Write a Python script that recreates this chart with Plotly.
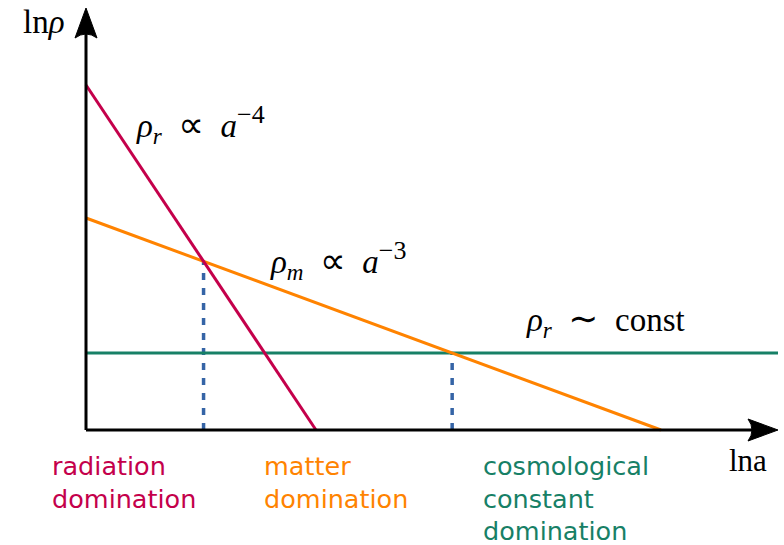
import plotly.graph_objects as go

# Schematic energy densities vs ln a (arbitrary units)
lna_radiation = [0.0, 2.30]
ln_rho_radiation = [3.45, 0.0]
lna_matter = [0.0, 5.75]
ln_rho_matter = [2.12, 0.0]
lna_lambda = [0.0, 6.92]
ln_rho_lambda = [0.77, 0.77]

RED = "#c4004b"
ORANGE = "#ff8300"
GREEN = "#178066"
BLUE = "#3564a6"

W, H = 784, 545
X0, Y0, S = 86, 430, 100.0  # origin pixel and pixels per unit


def dx(px):
    return (px - X0) / S


def dy(py):
    return (Y0 - py) / S


def line_eq(xs, ys):
    m = (ys[1] - ys[0]) / (xs[1] - xs[0])
    return m, ys[0] - m * xs[0]


mr, br = line_eq(lna_radiation, ln_rho_radiation)
mm, bm = line_eq(lna_matter, ln_rho_matter)
ml, bl = line_eq(lna_lambda, ln_rho_lambda)

# equality epochs
x_rm = (bm - br) / (mr - mm)
y_rm = mr * x_rm + br
x_ml = (bl - bm) / (mm - ml)
y_ml = ml * x_ml + bl

fig = go.Figure()

for xs, ys in [([x_rm, x_rm], [0, y_rm]), ([x_ml, x_ml], [0, y_ml])]:
    fig.add_trace(go.Scatter(x=xs, y=ys, mode="lines",
                             line=dict(color=BLUE, width=3.5, dash="7px,8px"),
                             hoverinfo="skip"))

fig.add_trace(go.Scatter(x=lna_lambda, y=ln_rho_lambda, mode="lines",
                         line=dict(color=GREEN, width=3), hoverinfo="skip"))
fig.add_trace(go.Scatter(x=lna_matter, y=ln_rho_matter, mode="lines",
                         line=dict(color=ORANGE, width=3), hoverinfo="skip"))
fig.add_trace(go.Scatter(x=lna_radiation, y=ln_rho_radiation, mode="lines",
                         line=dict(color=RED, width=3), hoverinfo="skip"))

# axes with stealth arrowheads
x_end = dx(752)
y_end = dy(34)
shapes = [
    dict(type="line", x0=0, y0=0, x1=x_end, y1=0, line=dict(color="black", width=3)),
    dict(type="line", x0=0, y0=0, x1=0, y1=y_end, line=dict(color="black", width=3)),
]
shapes.append(dict(
    type="path",
    path=(f"M {dx(748)} {dy(419)} L {dx(778)} 0 L {dx(748)} {dy(441)} "
          f"Q {dx(756)} 0 {dx(748)} {dy(419)} Z"),
    fillcolor="black", line=dict(color="black", width=1)))
shapes.append(dict(
    type="path",
    path=(f"M {dx(75)} {dy(38)} L 0 {dy(8)} L {dx(97)} {dy(38)} "
          f"Q 0 {dy(30)} {dx(75)} {dy(38)} Z"),
    fillcolor="black", line=dict(color="black", width=1)))

SERIF = "Liberation Serif"
SANS = "DejaVu Sans"
ann = []


def txt(text, px, py, xanchor="left", yanchor="middle", size=33, color="black",
        family=SERIF):
    ann.append(dict(text=text, x=dx(px), y=dy(py), xref="x", yref="y",
                    xanchor=xanchor, yanchor=yanchor, showarrow=False,
                    font=dict(family=family, size=size, color=color)))


def sym(ch):
    return f'<span style="font-family:DejaVu Sans;font-size:36px">{ch}</span>'


def sup(s):
    return f'<sup><span style="font-size:26px">{s}</span></sup>'


txt("ln<i>ρ</i>", 44, 22, xanchor="center")
txt(f"<i>ρ<sub>r</sub></i>  {sym('∝')}  <i>a</i>{sup('−4')}", 134, 124)
txt(f"<i>ρ<sub>m</sub></i>  {sym('∝')}  <i>a</i>{sup('−3')}", 268, 260)
txt(f"<i>ρ<sub>r</sub></i>  {sym('∼')}  const", 524, 320)
txt("lna", 748, 460, xanchor="center", size=31)


def label(lines, px, color):
    for i, s in enumerate(lines):
        txt(s, px, 466 + 32.5 * i, size=25.5, color=color, family=SANS)


label(["radiation", "domination"], 50, RED)
label(["matter", "domination"], 262, ORANGE)
label(["cosmological", "constant", "domination"], 481, GREEN)

fig.update_layout(
    width=W, height=H, margin=dict(l=0, r=0, t=0, b=0),
    paper_bgcolor="white", plot_bgcolor="white", showlegend=False,
    xaxis=dict(range=[dx(0), dx(W)], visible=False, fixedrange=True),
    yaxis=dict(range=[dy(H), dy(0)], visible=False, fixedrange=True),
    shapes=shapes, annotations=ann,
)

fig.write_html("out.html")
